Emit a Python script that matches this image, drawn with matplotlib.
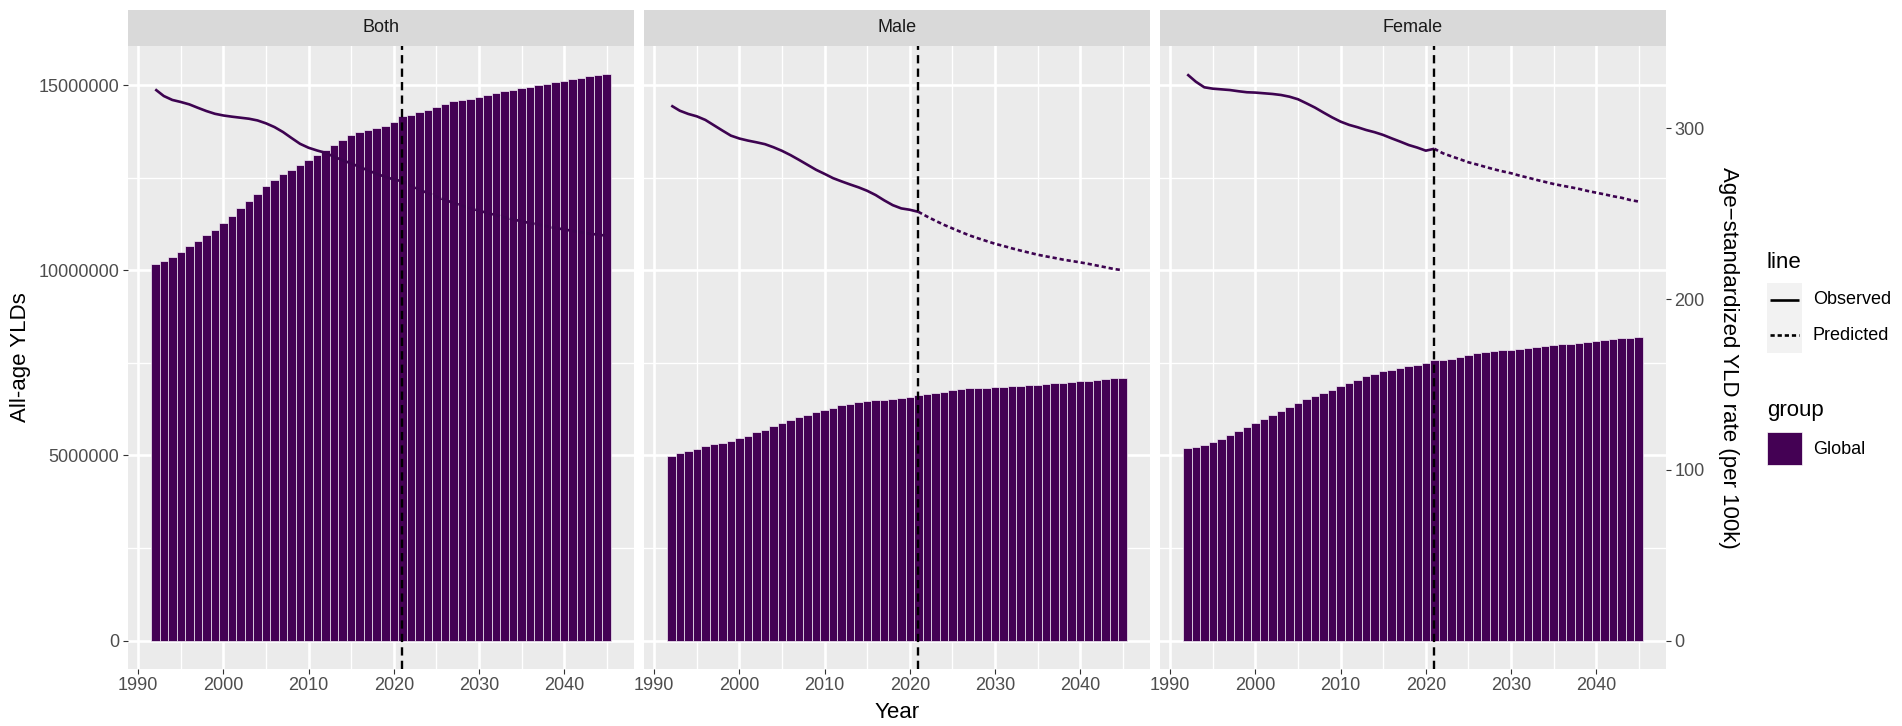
import matplotlib
matplotlib.use('Agg')
import matplotlib.pyplot as plt
from matplotlib.patches import Rectangle
from matplotlib.lines import Line2D
from matplotlib.ticker import FuncFormatter
import numpy as np

plt.rcParams['font.family'] = ['Liberation Sans', 'DejaVu Sans']

# ---------------- data ----------------
years = list(range(1992, 2046))
years_obs = list(range(1992, 2022))
years_pred = list(range(2021, 2046))
panels = ['Both', 'Male', 'Female']
cut_year = 2021

bars_both = [10.18e6, 10.25e6, 10.36e6, 10.50e6, 10.66e6, 10.79e6, 10.94e6, 11.08e6, 11.27e6, 11.46e6,
             11.67e6, 11.86e6, 12.06e6, 12.27e6, 12.43e6, 12.59e6, 12.72e6, 12.85e6, 12.99e6, 13.11e6,
             13.24e6, 13.38e6, 13.51e6, 13.64e6, 13.72e6, 13.78e6, 13.83e6, 13.90e6, 14.01e6, 14.16e6,
             14.20e6, 14.26e6, 14.32e6, 14.40e6, 14.48e6, 14.56e6, 14.60e6, 14.63e6, 14.68e6, 14.73e6,
             14.78e6, 14.83e6, 14.87e6, 14.91e6, 14.96e6, 15.00e6, 15.04e6, 15.08e6, 15.12e6, 15.16e6,
             15.20e6, 15.24e6, 15.28e6, 15.29e6]
bars_male = [4.99e6, 5.07e6, 5.11e6, 5.18e6, 5.25e6, 5.30e6, 5.34e6, 5.39e6, 5.47e6, 5.52e6,
             5.63e6, 5.70e6, 5.79e6, 5.88e6, 5.97e6, 6.04e6, 6.10e6, 6.17e6, 6.22e6, 6.28e6,
             6.35e6, 6.40e6, 6.45e6, 6.47e6, 6.49e6, 6.51e6, 6.52e6, 6.55e6, 6.58e6, 6.63e6,
             6.67e6, 6.69e6, 6.72e6, 6.78e6, 6.79e6, 6.81e6, 6.82e6, 6.83e6, 6.84e6, 6.86e6,
             6.87e6, 6.88e6, 6.89e6, 6.91e6, 6.93e6, 6.95e6, 6.96e6, 6.98e6, 7.00e6, 7.02e6,
             7.04e6, 7.07e6, 7.09e6, 7.10e6]
bars_female = [5.20e6, 5.22e6, 5.27e6, 5.36e6, 5.45e6, 5.55e6, 5.66e6, 5.76e6, 5.88e6, 5.99e6,
               6.10e6, 6.20e6, 6.31e6, 6.42e6, 6.53e6, 6.60e6, 6.69e6, 6.78e6, 6.87e6, 6.96e6,
               7.05e6, 7.14e6, 7.21e6, 7.27e6, 7.32e6, 7.36e6, 7.41e6, 7.45e6, 7.50e6, 7.57e6,
               7.59e6, 7.61e6, 7.66e6, 7.72e6, 7.77e6, 7.79e6, 7.81e6, 7.84e6, 7.86e6, 7.88e6,
               7.91e6, 7.93e6, 7.95e6, 7.97e6, 8.00e6, 8.02e6, 8.04e6, 8.06e6, 8.09e6, 8.12e6,
               8.14e6, 8.16e6, 8.18e6, 8.19e6]

rate_obs_both = [322.8, 318.9, 316.6, 315.4, 314.0, 312.0, 310.1, 308.5, 307.5, 306.8,
                 306.2, 305.6, 304.6, 302.9, 300.7, 297.8, 294.3, 290.9, 288.6, 287.0,
                 285.6, 283.3, 281.3, 279.4, 277.4, 275.3, 273.3, 271.6, 270.0, 269.0]
rate_pred_both = [269.0, 266.5, 264.1, 262.0, 260.0, 258.1, 256.3, 254.7, 253.2, 251.8,
                  250.4, 249.1, 247.9, 246.7, 245.5, 244.5, 243.6, 242.6, 241.6, 240.8,
                  239.9, 239.1, 238.3, 237.7, 237.1]
rate_obs_male = [313.3, 310.3, 308.4, 307.0, 304.9, 301.8, 298.7, 295.7, 294.0, 292.8,
                 291.8, 290.7, 288.9, 286.8, 284.3, 281.5, 278.6, 275.7, 273.3, 270.8,
                 268.9, 267.1, 265.4, 263.4, 260.9, 257.8, 255.0, 253.1, 252.3, 251.1]
rate_pred_male = [251.1, 248.4, 245.9, 243.5, 241.4, 239.3, 237.3, 235.6, 234.0, 232.4,
                  231.1, 229.7, 228.4, 227.2, 226.0, 225.0, 224.1, 223.1, 222.3, 221.5,
                  220.6, 219.6, 218.6, 217.6, 216.9]
rate_obs_female = [331.6, 327.3, 324.0, 323.2, 322.8, 322.4, 321.7, 321.1, 320.9, 320.5,
                   320.1, 319.5, 318.5, 317.0, 314.6, 312.1, 309.2, 306.4, 303.9, 302.0,
                   300.6, 299.0, 297.7, 296.1, 294.1, 292.2, 290.2, 288.7, 286.9, 288.0]
rate_pred_female = [288.0, 285.4, 283.6, 281.9, 280.1, 278.8, 277.4, 276.0, 274.8, 273.7,
                    272.3, 271.1, 269.8, 268.6, 267.4, 266.4, 265.5, 264.5, 263.3, 262.3,
                    261.3, 260.2, 259.3, 258.0, 257.1]

bars = {'Both': bars_both, 'Male': bars_male, 'Female': bars_female}
rate_obs = {'Both': rate_obs_both, 'Male': rate_obs_male, 'Female': rate_obs_female}
rate_pred = {'Both': rate_pred_both, 'Male': rate_pred_male, 'Female': rate_pred_female}

x_major = [1990, 2000, 2010, 2020, 2030, 2040]
y_major = [0, 5e6, 10e6, 15e6]
y2_major = [0, 100, 200, 300]

# ---------------- style ----------------
BAR = '#440154'
LINE = '#3d0350'
PANEL_BG = '#EBEBEB'
STRIP_BG = '#D9D9D9'
W, H = 1902, 726

max_bar = max(max(v) for v in bars.values())
max_rate = max(max(v) for v in list(rate_obs.values()) + list(rate_pred.values()))
scale = max_bar / max_rate

fig = plt.figure(figsize=(W / 100, H / 100), dpi=100)
fig.patch.set_facecolor('white')

def fx(px):
    return px / W

def fy(py):
    return 1 - py / H

panel_left = [128, 644, 1160]
panel_w = 506
p_top, p_bot = 46, 669
s_top = 10

xr = (min(years) - 0.5, max(years) + 0.5)
xpad = 0.05 * (xr[1] - xr[0])
ypad = 0.05 * max_bar

for i, name in enumerate(panels):
    l = panel_left[i]
    ax = fig.add_axes([fx(l), fy(p_bot), fx(panel_w), (p_bot - p_top) / H])
    ax.set_facecolor(PANEL_BG)
    for s in ax.spines.values():
        s.set_visible(False)
    ax.set_xlim(xr[0] - xpad, xr[1] + xpad)
    ax.set_ylim(-ypad, max_bar + ypad)
    ax.set_xticks(x_major)
    ax.set_xticks([x + 5 for x in x_major], minor=True)
    ax.set_yticks(y_major)
    ax.set_yticks([y + 2.5e6 for y in y_major[:-1]], minor=True)
    ax.grid(which='major', color='white', lw=1.9)
    ax.grid(which='minor', color='white', lw=0.95)
    ax.set_axisbelow(True)
    ax.tick_params(which='minor', length=0)
    ax.tick_params(which='major', length=3.6, width=0.8, color='#333333',
                   labelcolor='#4D4D4D', labelsize=13, pad=2.5)
    ax.yaxis.set_major_formatter(FuncFormatter(lambda v, p: f'{int(round(v))}'))
    if i > 0:
        ax.tick_params(axis='y', which='both', left=False, labelleft=False)

    ax.bar(years, bars[name], width=1.0, color=BAR, edgecolor='#f4eef6',
           linewidth=0.5, zorder=2)
    ax.plot(years_obs, np.array(rate_obs[name]) * scale, color=LINE, lw=1.9,
            solid_capstyle='butt', zorder=3)
    ax.plot(years_pred, np.array(rate_pred[name]) * scale, color=LINE, lw=1.9,
            linestyle=(0, (1.6, 1.1)), zorder=3)
    ax.axvline(cut_year, color='black', lw=1.7, linestyle=(0, (3.5, 2.2)), zorder=4)

    if i == 2:
        sec = ax.secondary_yaxis('right', functions=(lambda y: y / scale, lambda r: r * scale))
        sec.set_yticks(y2_major)
        for s in sec.spines.values():
            s.set_visible(False)
        sec.tick_params(length=3.6, width=0.8, color='#333333',
                        labelcolor='#4D4D4D', labelsize=13, pad=2.5)

    sax = fig.add_axes([fx(l), fy(p_top), fx(panel_w), (p_top - s_top) / H])
    sax.set_facecolor(STRIP_BG)
    sax.set_xticks([])
    sax.set_yticks([])
    for s in sax.spines.values():
        s.set_visible(False)
    sax.text(0.5, 0.5, name, ha='center', va='center', fontsize=13,
             color='#1A1A1A', transform=sax.transAxes)

# axis titles
fig.text(fx(21), fy((p_top + p_bot) / 2), 'All-age YLDs', rotation=90,
         ha='center', va='center', fontsize=16, color='black')
fig.text(fx(897), fy(712), 'Year', ha='center', va='center', fontsize=16, color='black')
fig.text(fx(1728), fy((p_top + p_bot) / 2), 'Age\u2212standardized YLD rate (per 100k)',
         rotation=-90, ha='center', va='center', fontsize=16, color='black')

# legend
kx0, kx1 = 1767, 1802
fig.text(fx(kx0), fy(262), 'line', ha='left', va='center', fontsize=16)
fig.add_artist(Rectangle((fx(kx0), fy(353)), fx(kx1 - kx0), 70 / H,
                         transform=fig.transFigure, facecolor='#F2F2F2', edgecolor='none'))
fig.add_artist(Line2D([fx(1770), fx(1799)], [fy(300), fy(300)], transform=fig.transFigure,
                      color='black', lw=1.9, solid_capstyle='butt'))
fig.add_artist(Line2D([fx(1770), fx(1799)], [fy(335), fy(335)], transform=fig.transFigure,
                      color='black', lw=1.9, linestyle=(0, (1.6, 1.1))))
fig.text(fx(1813), fy(300), 'Observed', ha='left', va='center', fontsize=13)
fig.text(fx(1813), fy(335), 'Predicted', ha='left', va='center', fontsize=13)

fig.text(fx(kx0), fy(410), 'group', ha='left', va='center', fontsize=16)
fig.add_artist(Rectangle((fx(kx0), fy(465)), fx(kx1 - kx0), 33 / H,
                         transform=fig.transFigure, facecolor=BAR, edgecolor='white', lw=0.5))
fig.text(fx(1813), fy(449), 'Global', ha='left', va='center', fontsize=13)

fig.savefig('out.png', dpi=100, facecolor='white')
